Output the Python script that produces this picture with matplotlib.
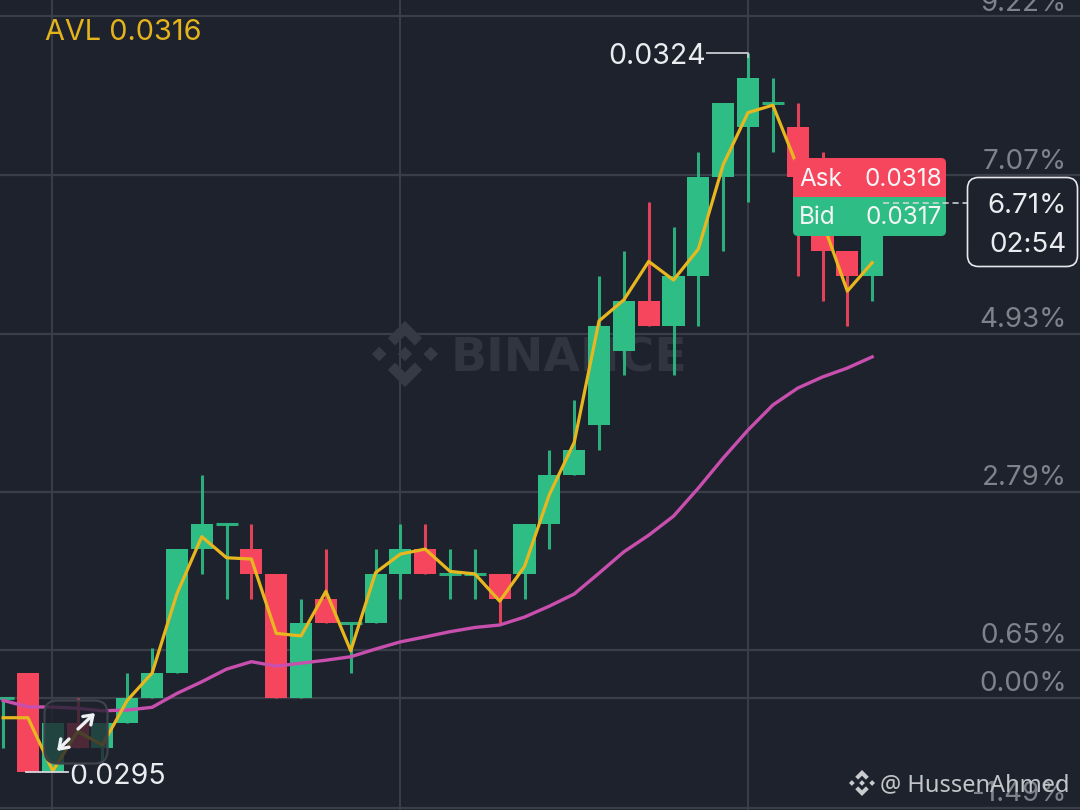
import matplotlib
matplotlib.use("Agg")
import matplotlib.pyplot as plt
from matplotlib.patches import FancyBboxPatch, Polygon, Rectangle
from matplotlib.transforms import Affine2D

# Prices in units of 0.0001
opens = [298, 299, 295, 297, 296, 297, 298, 299, 304, 305, 304, 303, 298, 302, 301, 301, 303, 304, 303, 303,
         303, 303, 305, 307, 309, 312, 314, 313, 315, 319, 321, 322, 321, 318, 316, 315]
closes = [298, 295, 297, 296, 297, 298, 299, 304, 305, 305, 303, 298, 301, 301, 301, 303, 304, 303, 303, 303,
          302, 305, 307, 308, 313, 314, 313, 315, 319, 322, 323, 322, 319, 316, 315, 318]
highs = [298, 299, 297, 298, 297, 299, 300, 304, 307, 305, 305, 303, 302, 304, 301, 304, 305, 305, 304, 304,
         303, 305, 308, 310, 315, 316, 318, 317, 320, 322, 324, 323, 322, 320, 316, 318]
lows = [296, 295, 295, 296, 295.4, 297, 298, 299, 303, 302, 302, 298, 298, 301, 299, 301, 302, 303, 302, 302,
        301, 302, 304, 307, 308, 311, 313, 311, 313, 316, 318, 320, 315, 314, 313, 314]
avl = [297.2, 297.2, 295.05, 296.65, 296.1, 297.9, 299.0, 302.2, 304.5, 303.65, 303.6, 300.6, 300.5, 302.3, 299.9,
       303.05, 303.8, 304.0, 303.1, 303.0, 301.9, 303.3, 306.2, 308.3, 313.2, 314.05, 315.6, 314.85, 316.1, 319.5,
       321.6, 321.9, 319.4, 317.2, 314.4, 315.55]
ma_long = [297.9, 297.64, 297.63, 297.58, 297.48, 297.51, 297.62, 298.18, 298.65, 299.16, 299.46, 299.28, 299.4,
           299.52, 299.66, 299.97, 300.26, 300.46, 300.67, 300.84, 300.94, 301.26, 301.7, 302.19, 303.03, 303.89,
           304.56, 305.33, 306.46, 307.67, 308.8, 309.81, 310.49, 310.94, 311.3, 311.75]
pct_ticks = [9.22, 7.07, 4.93, 2.79, 0.65, 0.00, -1.49]
base_price = 298

BG, GRID = "#1e222d", "#3a3e48"
GREEN, RED = "#2ebd85", "#f6465d"
YELLOW, MAGENTA = "#e8b71f", "#c94fae"
FONT = "Inter"

fig = plt.figure(figsize=(10.8, 8.1), dpi=100, facecolor=BG)
ax = fig.add_axes([0, 0, 1, 1], facecolor=BG)
ax.set_xlim(-0.125, 43.37)
ax.set_ylim(293.48, 326.14)
ax.axis("off")
px = Affine2D().scale(1 / 1080, -1 / 810).translate(0, 1) + fig.transFigure

# grid
for p in pct_ticks:
    ax.axhline(base_price * (1 + p / 100), color=GRID, lw=1.6, zorder=1)
for xp in (52, 400, 748):
    ax.plot([xp, xp], [0, 810], color=GRID, lw=1.4, transform=px, zorder=1)


def logo(cx, cy, r, color, z):
    pieces = [
        [(0, -0.22), (0.22, 0), (0, 0.22), (-0.22, 0)],
        [(-1.0, 0), (-0.78, -0.22), (-0.56, 0), (-0.78, 0.22)],
        [(1.0, 0), (0.78, -0.22), (0.56, 0), (0.78, 0.22)],
        [(0, -1), (0.52, -0.48), (0.3, -0.26), (0, -0.56), (-0.3, -0.26), (-0.52, -0.48)],
        [(0, 1), (0.52, 0.48), (0.3, 0.26), (0, 0.56), (-0.3, 0.26), (-0.52, 0.48)],
    ]
    for pts in pieces:
        ax.add_patch(Polygon([(cx + r * a, cy + r * b) for a, b in pts], closed=True, fc=color, ec="none",
                             transform=px, zorder=z))


# watermark
logo(405, 354, 33, "#363a45", 2)
ax.text(451, 372, "BINANCE", transform=px, color="#31353f", fontsize=34, fontweight="bold",
        family="DejaVu Sans", ha="left", va="baseline", zorder=2)

# candles
for i, (o, c, h, l) in enumerate(zip(opens, closes, highs, lows)):
    col = GREEN if c >= o else RED
    ax.vlines(i, l, h, color=col, lw=2.2, zorder=3, alpha=0.9)
    if c == o:
        ax.hlines(c, i - 0.44, i + 0.44, color=col, lw=2.2, zorder=3, alpha=0.9)
    else:
        ax.bar(i, abs(c - o), bottom=min(o, c), width=0.89, color=col, lw=0, zorder=4)

ax.plot(range(len(ma_long)), ma_long, color=MAGENTA, lw=2.4, zorder=5, solid_joinstyle="round")
ax.plot(range(len(avl)), avl, color=YELLOW, lw=2.3, zorder=6, solid_joinstyle="round")

# percent labels
label_y = {9.22: 4, 7.07: 162, 4.93: 320, 2.79: 478, 0.65: 636, 0.00: 684, -1.49: 794}
for p in pct_ticks:
    ax.text(1067, label_y[p], f"{p:.2f}%", transform=px, color="#7d828b", fontsize=20, family=FONT,
            ha="right", va="center", zorder=7)

# AVL
ax.text(45, 33, "AVL 0.0316", transform=px, color="#e5b41c", fontsize=20.8, family=FONT, va="center", zorder=8)

# high / low markers
ax.plot([707, 748, 748], [53, 53, 57], color="#c8cbd0", lw=1.3, transform=px, zorder=8)
ax.text(706, 57, "0.0324", transform=px, color="#eaecef", fontsize=20.5, family=FONT, ha="right", va="center", zorder=8)
ax.plot([26, 68], [771.5, 771.5], color="#d5d7db", lw=1.3, transform=px, zorder=8)
ax.text(69, 776, "0.0295", transform=px, color="#eaecef", fontsize=20.5, family=FONT, ha="left", va="center", zorder=8)

# ask / bid tag
ax.add_patch(FancyBboxPatch((793, 162), 153, 74, boxstyle="round,pad=0,rounding_size=5", transform=px, fc=GREEN,
                            ec="none", zorder=9))
ax.add_patch(FancyBboxPatch((793, 158), 153, 39, boxstyle="round,pad=0,rounding_size=5", transform=px, fc=RED,
                            ec="none", zorder=9))
ax.add_patch(Rectangle((793, 190), 153, 7, transform=px, fc=RED, ec="none", zorder=9))
ax.add_patch(Rectangle((793, 197), 153, 10, transform=px, fc=GREEN, ec="none", zorder=9))
for y, a, b in ((179, "Ask", "0.0318"), (218, "Bid", "0.0317")):
    ax.text(799, y, a, transform=px, color="#f4f5f6", fontsize=17.5, family=FONT, va="center", zorder=10)
    ax.text(942, y, b, transform=px, color="#f4f5f6", fontsize=17.5, family=FONT, va="center", ha="right", zorder=10)

ax.plot([883, 968], [203, 203], color="#d8dade", lw=1.1, ls=(0, (4, 2.5)), transform=px, zorder=10)

# current price tag
ax.add_patch(FancyBboxPatch((967.5, 177.5), 110, 89, boxstyle="round,pad=0,rounding_size=11", transform=px, fc=BG,
                            ec="#e6e8eb", lw=1.2, zorder=10))
ax.text(1067, 206, "6.71%", transform=px, color="#eaecef", fontsize=20, family=FONT, ha="right", va="center", zorder=11)
ax.text(1067, 245, "02:54", transform=px, color="#eaecef", fontsize=20, family=FONT, ha="right", va="center", zorder=11)

# expand button
ax.add_patch(FancyBboxPatch((44.5, 700.5), 63, 63, boxstyle="round,pad=0,rounding_size=13", transform=px,
                            fc=(0.118, 0.133, 0.176, 0.78), ec="#3e424c", lw=1.6, zorder=12))
for start, end in (((78, 729), (95, 713)), ((69, 739), (57, 751))):
    ax.annotate("", xy=end, xytext=start, xycoords=px, textcoords=px, zorder=13,
                arrowprops=dict(arrowstyle="->,head_length=0.6,head_width=0.42", color="#eef0f3", lw=2.4,
                                shrinkA=0, shrinkB=0))

# footer signature
logo(862, 783, 13, "#c9cbcf", 13)
ax.text(880, 785, "@ HussenAhmed", transform=px, color="#c3c5c9", fontsize=17, family="Noto Sans", va="center",
        zorder=14)

fig.savefig("out.png", dpi=100, facecolor=BG)
